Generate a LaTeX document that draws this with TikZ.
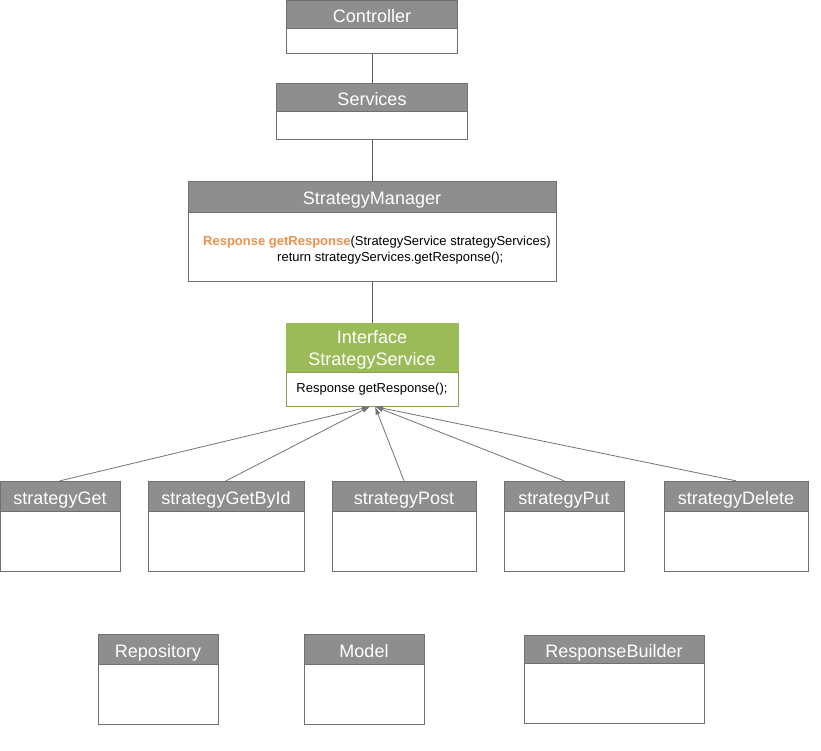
\documentclass[tikz,border=0pt]{standalone}
\usepackage{fontspec}
\setmainfont{Liberation Sans}
\usetikzlibrary{positioning,arrows.meta}
\definecolor{headgray}{RGB}{142,142,142}
\definecolor{boxgray}{RGB}{112,112,112}
\definecolor{linegray}{RGB}{90,90,90}
\definecolor{arrowgray}{RGB}{115,115,115}
\definecolor{ifacegreen}{RGB}{155,187,89}
\definecolor{ifaceborder}{RGB}{138,160,78}
\definecolor{methodorange}{RGB}{240,145,75}

\begin{document}
\begin{tikzpicture}[x=1pt,y=-1pt,
  head/.style={draw=boxgray,fill=headgray,text=white,inner sep=0pt,
    text height=18pt,text depth=2pt,
    minimum width=#1,minimum height=30pt,font=\fontsize{18}{22}\selectfont},
  body/.style={draw=boxgray,fill=white,inner sep=0pt,
    minimum width=#1,minimum height=60pt,font=\fontsize{13}{15}\selectfont},
  txt/.style={inner sep=0pt,font=\fontsize{13}{15}\selectfont},
  link/.style={draw=linegray,line width=0.8pt},
  impl/.style={draw=arrowgray,line width=0.8pt,-{Latex[length=8pt,width=5pt]}}]
 \useasboundingbox (0,0) rectangle (821,750);

 % call chain
 \node[head=171pt,minimum height=28pt] (ctrl) at (372,14) {Controller};
 \node[body=171pt,minimum height=25pt,below=0pt of ctrl] (ctrl-b) {};
 \node[head=191pt,minimum height=28pt] (svc) at (372,97) {Services};
 \node[body=191pt,minimum height=28pt,below=0pt of svc] (svc-b) {};
 \node[head=368pt,minimum height=31pt] (sm) at (372,196.5) {StrategyManager};
 \node[body=368pt,minimum height=69pt,below=0pt of sm] (sm-b) {};
 \node[txt,anchor=base west] (sm-sig) at (203,245)
   {\textcolor{methodorange}{\textbf{Response getResponse}}(StrategyService strategyServices)};
 \node[txt,anchor=base west] (sm-ret) at (277,261) {return strategyServices.getResponse();};
 \node[head=172pt,fill=ifacegreen,draw=ifacegreen,minimum height=49pt,align=center,
   text height=,text depth=] (iface) at (372,347.5) {\rule{0pt}{18pt}Interface\\StrategyService};
 \node[body=172pt,draw=ifaceborder,minimum height=34pt,below=0pt of iface]
   (iface-b) {Response getResponse();};

 \draw[link] (ctrl-b) -- (svc);
 \draw[link] (svc-b) -- (sm);
 \draw[link] (sm-b) -- (iface);

 % strategies
 \node[head=120pt] (get) at (60,496) {strategyGet};
 \node[body=120pt,below=0pt of get] (get-b) {};
 \node[head=156pt] (getid) at (226,496) {strategyGetById};
 \node[body=156pt,below=0pt of getid] (getid-b) {};
 \node[head=144pt] (post) at (404,496) {strategyPost};
 \node[body=144pt,below=0pt of post] (post-b) {};
 \node[head=120pt] (put) at (564,496) {strategyPut};
 \node[body=120pt,below=0pt of put] (put-b) {};
 \node[head=144pt] (del) at (736,496) {strategyDelete};
 \node[body=144pt,below=0pt of del] (del-b) {};

 \draw[impl] (get.north) -- ([xshift=-2pt]iface-b.south);
 \draw[impl] (getid.north) -- ([xshift=-2pt]iface-b.south);
 \draw[impl] (post.north) -- ([xshift=3pt]iface-b.south);
 \draw[impl] (put.north) -- ([xshift=3pt]iface-b.south);
 \draw[impl] (del.north) -- ([xshift=3pt]iface-b.south);

 % helpers
 \node[head=120pt] (repo) at (158,649) {Repository};
 \node[body=120pt,below=0pt of repo] (repo-b) {};
 \node[head=120pt] (model) at (364,649) {Model};
 \node[body=120pt,below=0pt of model] (model-b) {};
 \node[head=180pt,minimum height=28pt] (rb) at (614,649) {ResponseBuilder};
 \node[body=180pt,below=0pt of rb] (rb-b) {};
\end{tikzpicture}
\end{document}
